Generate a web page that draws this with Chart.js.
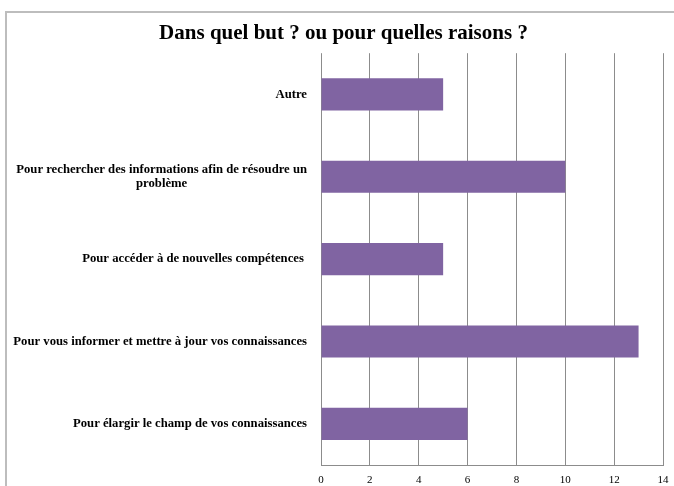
<!DOCTYPE html>
<html lang="fr">
<head>
<meta charset="utf-8">
<title>Dans quel but ? ou pour quelles raisons ?</title>
<script src="https://cdn.jsdelivr.net/npm/chart.js@4/dist/chart.umd.min.js"></script>
<style>
    html, body { margin: 0; padding: 0; background: #fff; overflow: hidden; }
    #frame {
        position: absolute; left: 5px; top: 11px; width: 700px; height: 500px;
        border: 2px solid #bdbdbd; box-sizing: border-box;
    }
    #wrap { position: absolute; left: 0; top: 0; width: 674px; height: 486px; }
</style>
</head>
<body>
<div id="frame"></div>
<div id="wrap"><canvas id="chart" width="674" height="486"></canvas></div>
<script>
// ============================
// Data
// ============================
const categories = [
    "Autre",
    ["Pour rechercher des informations afin de résoudre un", "problème"],
    "Pour accéder à de nouvelles compétences ",
    "Pour vous informer et mettre à jour vos connaissances",
    "Pour élargir le champ de vos connaissances"
];
const counts = [5, 10, 5, 13, 6];
const xTicks = [0, 2, 4, 6, 8, 10, 12, 14];

const serif = "'Liberation Serif', 'DejaVu Serif', serif";

// ============================
// Category labels: right aligned block, lines centred inside it
// ============================
const categoryLabels = {
    id: "categoryLabels",
    afterDraw(chart) {
        const ctx = chart.ctx;
        const yScale = chart.scales.y;
        const right = chart.chartArea.left - 14;
        const lineHeight = 14;
        ctx.save();
        ctx.font = "bold 12.7px " + serif;
        ctx.fillStyle = "#000";
        ctx.textAlign = "center";
        ctx.textBaseline = "middle";
        categories.forEach((label, i) => {
            const lines = Array.isArray(label) ? label : [label];
            const blockWidth = Math.max(...lines.map(l => ctx.measureText(l).width));
            const cx = right - blockWidth / 2;
            const cy = yScale.getPixelForValue(i);
            const startY = cy - (lines.length - 1) * lineHeight / 2;
            lines.forEach((line, j) => ctx.fillText(line, cx, startY + j * lineHeight));
        });
        ctx.restore();
    }
};

// ============================
// Chart
// ============================
const ctx = document.getElementById("chart").getContext("2d");
new Chart(ctx, {
    type: "bar",
    data: {
        labels: categories.map(c => Array.isArray(c) ? c.join(" ") : c),
        datasets: [{
            data: counts,
            backgroundColor: "#8064A2",
            borderWidth: 0,
            barPercentage: 0.39,
            categoryPercentage: 1
        }]
    },
    options: {
        indexAxis: "y",
        responsive: false,
        animation: false,
        layout: { padding: { left: 24, right: 11, top: 0, bottom: 0 } },
        plugins: {
            legend: { display: false },
            tooltip: { enabled: false },
            title: {
                display: true,
                text: "Dans quel but ? ou pour quelles raisons ?",
                color: "#000",
                font: { family: serif, size: 21, weight: "bold" },
                padding: { top: 21, bottom: 7 }
            }
        },
        scales: {
            x: {
                min: 0,
                max: 14,
                afterBuildTicks: (scale) => { scale.ticks = xTicks.map(v => ({ value: v })); },
                grid: { color: "#8c8c8c", lineWidth: 1, drawTicks: false },
                border: { display: true, color: "#8c8c8c" },
                ticks: {
                    color: "#000",
                    padding: 9,
                    font: { family: serif, size: 11 }
                },
                afterFit: (scale) => {
                    scale.height = 21;
                    scale.paddingLeft = 0;
                    scale.paddingRight = 0;
                }
            },
            y: {
                grid: { display: false, drawTicks: false },
                border: { display: false },
                ticks: { display: false },
                afterFit: (scale) => { scale.width = 297; }
            }
        }
    },
    plugins: [categoryLabels]
});
</script>
</body>
</html>
